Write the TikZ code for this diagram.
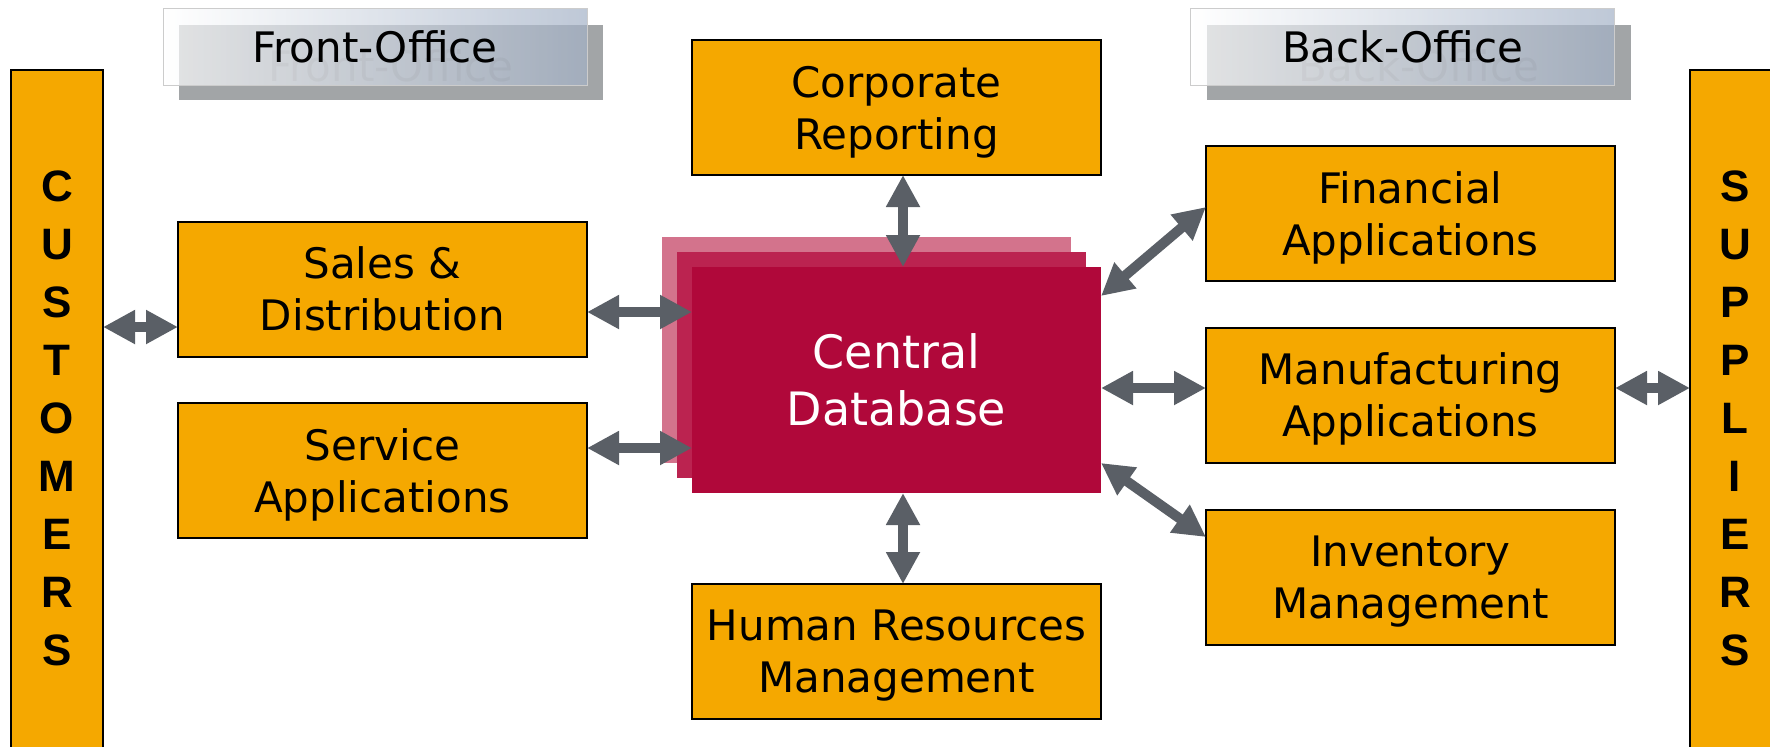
\documentclass[tikz,border=0pt]{standalone}
\usepackage{fontspec}
\setmainfont{DejaVu Sans}
\newfontfamily\barfont{Liberation Sans}
\usetikzlibrary{arrows.meta,positioning}
\definecolor{boxorange}{HTML}{F5A800}
\definecolor{dbred}{HTML}{B0083A}
\definecolor{dbmid}{HTML}{BB2350}
\definecolor{dbback}{HTML}{D3738C}
\definecolor{arrowgray}{HTML}{5A5F66}
\definecolor{shadowgray}{HTML}{A2A5A7}
\definecolor{labelblue}{HTML}{A3B1C6}

\begin{document}
\begin{tikzpicture}[x=0.5pt, y=-0.5pt,
  app/.style={draw=black, line width=1pt, fill=boxorange, minimum width=204.5pt,
    minimum height=67.5pt, inner sep=0pt, outer sep=0pt, align=center, text depth=0pt,
    font=\fontsize{21}{26}\selectfont},
  layer/.style={minimum width=204.5pt, minimum height=113pt, inner sep=0pt, outer sep=0pt},
  bar/.style={draw=black, line width=1pt, fill=boxorange, inner sep=0pt, outer sep=0pt,
    minimum height=348.5pt, align=center, font=\barfont\bfseries\fontsize{22}{29}\selectfont},
  dbl/.style={arrowgray, line width=5pt, {Triangle[length=16pt,width=16pt]}-{Triangle[length=16pt,width=16pt]}},
  officeshadow/.style={fill=shadowgray, minimum width=212pt, minimum height=37.5pt, inner sep=0pt},
  office/.style={draw=gray!40, left color=white, right color=labelblue, fill opacity=0.7,
    minimum width=212pt, minimum height=38.5pt, inner sep=0pt, text opacity=1,
    font=\fontsize{21}{26}\selectfont}]
\useasboundingbox (0,0) rectangle (1770,746);

% office labels
\node[officeshadow] (fronts) at (391,62.5) {};
\node[text=black!45, font=\fontsize{21}{26}\selectfont] at (391,66) {Front-Office};
\node[office] (front) at (375,46.5) {Front-Office};
\node[officeshadow] (backs) at (1419,62) {};
\node[text=black!45, font=\fontsize{21}{26}\selectfont] at (1419,66) {Back-Office};
\node[office] (back) at (1402.5,47) {Back-Office};

% customer / supplier bars
\node[bar, minimum width=46pt] (cust) at (57,418.5) {C\\U\\S\\T\\O\\M\\E\\R\\S};
\node[bar, minimum width=45pt] (sup) at (1735,418.5) {S\\U\\P\\P\\L\\I\\E\\R\\S};

% central database
\node[layer, fill=dbback] (cdb) at (866.5,350) {};
\node[layer, fill=dbmid] (cdm) at (881.5,365) {};
\node[layer, fill=dbred, text=white, align=center, font=\fontsize{23}{28.5}\selectfont] (cd) at (896.5,380) {Central\\Database};

% applications
\node[app] (corp) at (896.5,107.5) {Corporate\\Reporting};
\node[app] (sales) at (382.5,289) {Sales \&\\Distribution};
\node[app] (service) at (382.5,470.5) {Service\\Applications};
\node[app] (hr) at (896.5,651.5) {Human Resources\\Management};
\node[app] (fin) at (1410.5,213.5) {Financial\\Applications};
\node[app] (manu) at (1410.5,395) {Manufacturing\\Applications};
\node[app] (inv) at (1410.5,577) {Inventory\\Management};

% connectors
\draw[dbl] ([yshift=-19pt]sales.west -| cust.east) -- ([yshift=-19pt]sales.west);
\draw[dbl] ([yshift=-11.5pt]sales.east) -- ([yshift=-11.5pt]sales.east -| cd.west);
\draw[dbl] ([yshift=11.25pt]service.east) -- ([yshift=11.25pt]service.east -| cd.west);
\draw[dbl] ([xshift=3.25pt]corp.south) -- ([xshift=3.25pt]cd.north);
\draw[dbl] ([xshift=3.25pt]cd.south) -- ([xshift=3.25pt]hr.north);
\draw[dbl] ([yshift=42pt]cd.east) -- ([yshift=3.25pt]fin.west);
\draw[dbl] ([yshift=3.5pt]manu.west -| cd.east) -- ([yshift=3.5pt]manu.west);
\draw[dbl] ([yshift=-41.5pt]cd.east) -- ([yshift=20pt]inv.west);
\draw[dbl] ([yshift=3.5pt]manu.east) -- ([yshift=3.5pt]manu.east -| sup.west);
\end{tikzpicture}
\end{document}
